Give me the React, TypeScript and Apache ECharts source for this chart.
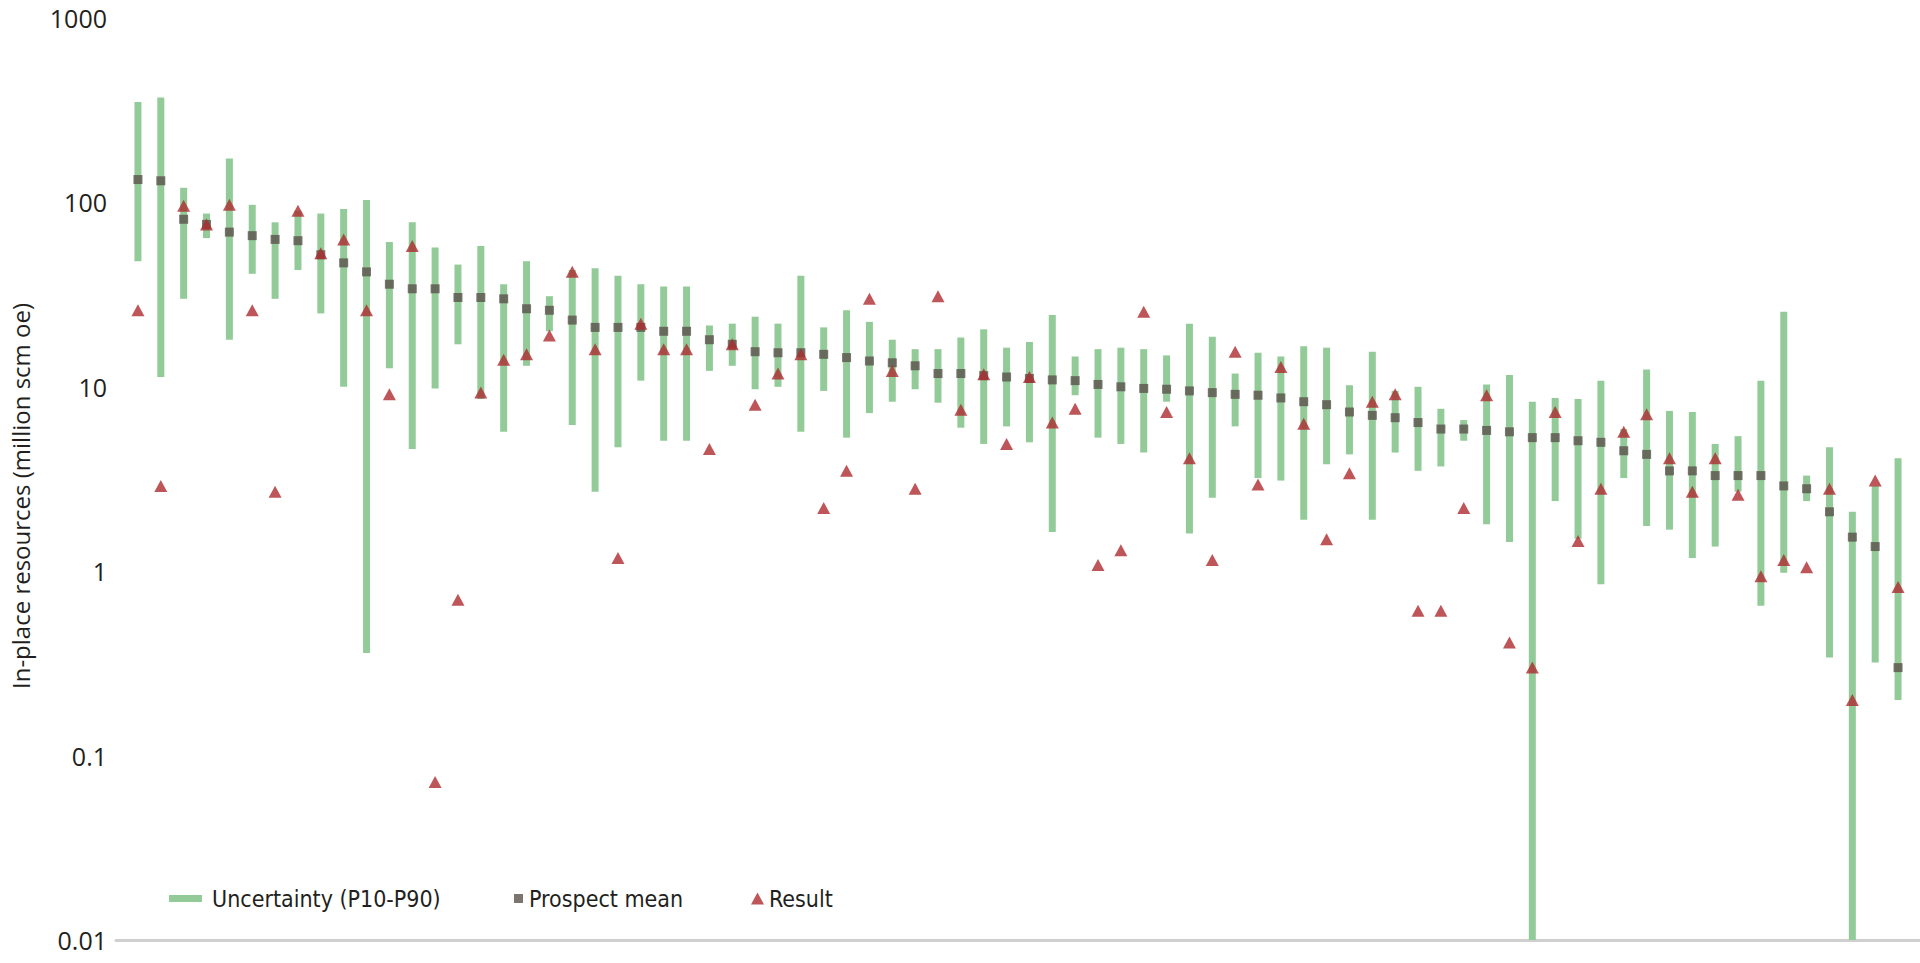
import React, { useEffect, useRef } from 'react';
import * as echarts from 'echarts';
import type { EChartsOption } from 'echarts';

// P10 (high) and P90 (low) of the uncertainty range, per prospect
const p10High = [
  350, 370, 120, 87, 173, 97, 78, 90, 87, 92,
  103, 61, 78, 57, 46, 58, 36, 48, 31, 43,
  44, 40, 36, 35, 35, 21.5, 22, 24, 22, 40,
  21, 26, 22.5, 18, 16, 16, 18.5, 20.5, 16.3, 17.5,
  24.5, 14.6, 16, 16.3, 16, 14.8, 22, 18.7, 11.8, 15.3,
  14.6, 16.6, 16.3, 10.2, 15.5, 9.5, 10, 7.6, 6.6, 10.3,
  11.6, 8.3, 8.7, 8.6, 10.8, 5.9, 12.4, 7.4, 7.3, 4.9,
  5.4, 10.8, 25.5, 3.3, 4.7, 2.1, 2.9, 4.1,
];
const p90Low = [
  48, 11.3, 30, 64, 18, 41, 30, 43, 25, 10,
  0.36, 12.6, 4.6, 9.8, 17, 8.6, 5.7, 13, 20, 6.2,
  2.7, 4.7, 10.8, 5.1, 5.1, 12.2, 13, 9.7, 10, 5.7,
  9.5, 5.3, 7.2, 8.3, 9.7, 8.2, 6, 4.9, 6.1, 5,
  1.63, 9, 5.3, 4.9, 4.4, 8.3, 1.6, 2.5, 6.1, 3.2,
  3.1, 1.9, 3.8, 4.3, 1.9, 4.4, 3.5, 3.7, 5.1, 1.8,
  1.44, 0.01, 2.4, 1.5, 0.85, 3.2, 1.76, 1.68, 1.18, 1.36,
  2.7, 0.65, 0.98, 2.4, 0.34, 0.01, 0.32, 0.2,
];
const prospectMean = [
  133, 131, 81, 76, 69, 66, 63, 62, 52, 47,
  42, 36, 34, 34, 30.5, 30.5, 30, 26.5, 26, 23,
  21, 21, 21, 20, 20, 18, 17, 15.5, 15.3, 15.3,
  15, 14.4, 13.8, 13.5, 13, 11.8, 11.8, 11.5, 11.3, 11.1,
  10.9, 10.8, 10.3, 10, 9.8, 9.7, 9.5, 9.3, 9.1, 9,
  8.7, 8.3, 8, 7.3, 7.0, 6.8, 6.4, 5.9, 5.9, 5.8,
  5.7, 5.3, 5.3, 5.1, 5, 4.5, 4.3, 3.5, 3.5, 3.3,
  3.3, 3.3, 2.9, 2.8, 2.1, 1.53, 1.36, 0.3,
];
const result = [
  26, 2.9, 96, 76, 97, 26, 2.7, 90, 53, 63,
  26, 9.1, 58, 0.072, 0.7, 9.3, 14, 15, 19, 42,
  16, 1.18, 22, 16, 16, 4.6, 17, 8, 11.8, 15,
  2.2, 3.5, 30, 12.2, 2.8, 31, 7.5, 11.7, 4.9, 11.3,
  6.4, 7.6, 1.08, 1.3, 25.5, 7.3, 4.1, 1.15, 15.5, 2.95,
  12.8, 6.3, 1.49, 3.4, 8.3, 9.1, 0.61, 0.61, 2.2, 9,
  0.41, 0.3, 7.3, 1.46, 2.8, 5.7, 7.1, 4.1, 2.7, 4.1,
  2.6, 0.94, 1.15, 1.05, 2.8, 0.2, 3.1, 0.82,
];
const yTicks = [0.01, 0.1, 1, 10, 100, 1000];

const GREEN = '#93cb98';
const GREY = '#5a514b';
const RED = '#ad2a30';
const TEXT = '#231f20';
const LEGEND_FONT = "'Liberation Sans Narrow', 'DejaVu Sans Condensed', sans-serif";

const App: React.FC = () => {
  const chartRef = useRef<HTMLDivElement>(null);

  useEffect(() => {
    if (!chartRef.current) return;
    const chart = echarts.init(chartRef.current, null, { renderer: 'svg' });

    const rangeData = p10High.map((hi, i) => [i, p90Low[i], hi]);
    const meanData = prospectMean.map((v, i) => [i, v]);
    const resultData = result.map((v, i) => [i, v]);

    const legendText = {
      fontFamily: LEGEND_FONT,
      fontSize: 23,
      color: TEXT,
    };

    const option: EChartsOption = {
      animation: false,
      grid: { left: 116, right: 0, top: 18, bottom: 23 },
      legend: [
        {
          left: 169,
          top: 887,
          padding: 0,
          icon: 'rect',
          itemWidth: 33,
          itemHeight: 7,
          textStyle: { ...legendText, padding: [0, 0, 0, 5] },
          data: ['Uncertainty (P10-P90)'],
          selectedMode: false,
        },
        {
          left: 514,
          top: 887,
          padding: 0,
          icon: 'rect',
          itemWidth: 9,
          itemHeight: 9,
          textStyle: { ...legendText, padding: [0, 0, 0, 1] },
          data: ['Prospect mean'],
          selectedMode: false,
        },
        {
          left: 751,
          top: 887,
          padding: 0,
          icon: 'triangle',
          itemWidth: 13,
          itemHeight: 12,
          textStyle: { ...legendText, padding: [0, 0, 0, 0] },
          data: ['Result'],
          selectedMode: false,
        },
      ],
      xAxis: {
        type: 'value',
        min: -0.96,
        max: 77.96,
        axisLine: { show: true, onZero: false, lineStyle: { color: '#cfcfcf', width: 3 } },
        axisTick: { show: false },
        axisLabel: { show: false },
        splitLine: { show: false },
      },
      yAxis: {
        type: 'log',
        logBase: 10,
        min: yTicks[0],
        max: yTicks[yTicks.length - 1],
        name: 'In-place resources (million scm oe)',
        nameLocation: 'middle',
        nameGap: 84,
        nameTextStyle: {
          fontFamily: "'Open Sans', sans-serif",
          fontSize: 24,
          color: TEXT,
          padding: [0, 34, 0, 0],
        },
        axisLine: { show: false },
        axisTick: { show: false },
        splitLine: { show: false },
        axisLabel: {
          margin: 9,
          fontFamily: "'Open Sans', sans-serif",
          fontSize: 25,
          color: TEXT,
          formatter: (v: number) => {
            const hit = yTicks.find((t) => Math.abs(t - v) / t < 1e-6);
            return hit !== undefined ? String(hit) : '';
          },
        },
      },
      series: [
        {
          name: 'Uncertainty (P10-P90)',
          type: 'custom',
          itemStyle: { color: GREEN },
          encode: { x: 0, y: [1, 2] },
          data: rangeData,
          z: 1,
          renderItem: (params: any, api: any) => {
            const x = api.value(0);
            const lo = api.coord([x, api.value(1)]);
            const hi = api.coord([x, api.value(2)]);
            const w = 7;
            return {
              type: 'rect',
              shape: { x: hi[0] - w / 2, y: hi[1], width: w, height: lo[1] - hi[1] },
              style: { fill: GREEN },
            };
          },
        },
        {
          name: 'Prospect mean',
          type: 'scatter',
          symbol: 'rect',
          symbolSize: 9,
          itemStyle: { color: GREY },
          data: meanData,
          z: 2,
        },
        {
          name: 'Result',
          type: 'scatter',
          symbol: 'triangle',
          symbolSize: [13, 12],
          itemStyle: { color: RED },
          data: resultData,
          z: 3,
        },
      ],
    };

    chart.setOption(option);
    const handleResize = () => chart.resize();
    window.addEventListener('resize', handleResize);
    return () => {
      window.removeEventListener('resize', handleResize);
      chart.dispose();
    };
  }, []);

  return (
    <div
      ref={chartRef}
      style={{ position: 'absolute', left: 0, top: 0, width: 1920, height: 963, background: '#fff' }}
    />
  );
};

export default App;
